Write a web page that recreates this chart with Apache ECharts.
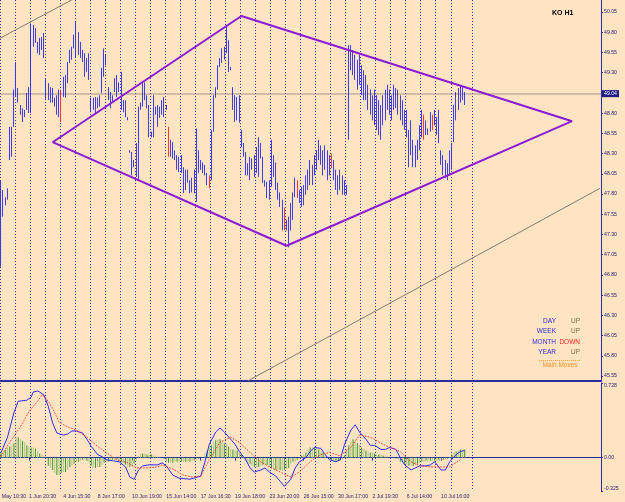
<!DOCTYPE html>
<html><head><meta charset="utf-8">
<script src="https://cdn.jsdelivr.net/npm/echarts@6/dist/echarts.min.js"></script>
<style>html,body{margin:0;padding:0;background:#ffe4c4;}#c{width:625px;height:502px;}</style>
</head><body><div id="c"></div>
<script>
// ---- data ----
const chartTitle = 'KO H1';
const barOpen = [47.00,47.80,47.70,47.75,48.25,48.55,48.65, 49.05,49.10,48.90,48.80,48.76,48.86,49.00,48.85, 49.85,49.68,49.66,49.55,49.70,49.60,49.20, 49.00,49.10,48.95,48.97,48.80,48.78,49.05, 49.00,49.20,49.18,49.43,49.48,49.62,49.75, 49.55,49.66,49.55,49.28,49.45,49.35,48.98, 48.85,48.95,48.88,48.95,49.07,49.30,49.50, 49.10,49.00,48.95,49.08,49.20,49.08,49.15, 48.90,48.82,48.75,48.34,48.30,48.14,48.20, 48.00,48.90,48.88,49.15,48.88,48.88,48.56, 48.52,48.86,48.80,48.76,48.85,48.78,48.88, 48.60,48.30,48.42,48.30,48.12,48.10,48.22, 48.08,47.88,48.05,47.95,47.84,47.85,48.05, 48.10,48.20,48.12,48.10,47.93,48.02,47.98, 48.58,49.00,49.10,49.38,49.44,49.57,49.55, 49.66,49.36,49.10,48.90,48.73,48.70,48.57, 48.40,48.28,48.05,48.15,48.11,48.03,48.25, 48.10,48.42,48.24,47.96,47.77,47.75,47.95, 48.25,48.05,47.90,47.78,47.38,47.60,47.45, 47.36,47.40,47.60,47.78,47.95,47.78,47.70, 47.80,47.80,48.00,47.92,48.15,48.05,48.22, 48.30,48.38,48.20,48.12,48.30,48.05,48.26, 48.15,48.00,47.88,47.98,47.82,47.95,47.82, 48.50,49.60,49.35,49.50,49.25,49.15,49.38, 49.05,49.25,49.00,48.88,49.00,48.75,48.70, 48.62,48.90,48.66,48.98,48.86,49.08,48.80, 48.95,49.10,48.90,48.82,48.75,48.82,48.62, 48.55,48.30,48.45,48.16,48.35,48.40,48.60, 48.78,48.55,48.60,48.58,48.76,48.66,48.72, 48.56,48.32,48.20,48.05,48.15,48.05,48.30, 48.46,48.85,49.00,49.08,48.97,49.02];
const barHigh = [47.97,47.85,47.76,47.87,48.63,48.63,49.09, 49.43,49.11,48.90,48.86,48.84,49.05,49.12,49.91, 49.89,49.85,49.68,49.73,49.74,49.79,49.23, 49.17,49.12,49.11,48.99,49.02,49.09,49.09, 49.25,49.27,49.43,49.58,49.62,49.77,49.93, 49.80,49.68,49.58,49.54,49.48,49.54,48.99, 48.99,49.00,48.99,49.02,49.36,49.60,49.52, 49.12,49.06,49.02,49.23,49.27,49.18,49.31, 48.96,48.96,48.75,48.34,48.32,48.22,48.43, 48.88,48.93,49.17,49.18,49.02,48.90,48.57, 49.02,48.88,48.90,48.88,48.96,49.00,48.90, 48.63,48.47,48.44,48.34,48.28,48.26,48.28, 48.13,48.10,48.10,47.97,48.00,48.10,48.61, 48.34,48.22,48.19,48.16,48.06,48.03,48.59, 49.02,49.12,49.39,49.48,49.60,49.62,49.89, 49.70,49.37,49.12,49.02,49.00,49.02,48.59, 48.43,48.32,48.18,48.26,48.24,48.28,48.38, 48.50,48.43,48.26,47.97,47.95,47.97,48.47, 48.28,48.19,47.94,47.82,47.73,47.63,47.48, 47.52,47.69,47.82,48.00,47.97,47.85,47.89, 47.91,48.03,48.10,48.22,48.16,48.28,48.34, 48.47,48.40,48.34,48.40,48.34,48.28,48.30, 48.22,48.10,48.03,48.10,48.03,47.97,47.91, 49.64,49.64,49.58,49.52,49.46,49.52,49.39, 49.33,49.27,49.15,49.09,49.02,49.09,49.02, 48.96,48.90,49.02,49.09,49.15,49.09,49.02, 49.15,49.11,49.09,49.02,48.96,48.84,48.84, 48.59,48.71,48.47,48.40,48.47,48.65,48.84, 48.78,48.71,48.61,48.81,48.78,48.84,48.75, 48.84,48.34,48.28,48.22,48.18,48.34,48.43, 48.90,49.06,49.11,49.15,49.12,49.06];
const barLow = [46.90,47.52,47.66,47.73,48.22,48.26,48.63, 49.00,48.93,48.78,48.69,48.75,48.84,48.80,48.80, 49.62,49.67,49.54,49.52,49.58,49.48,48.96, 48.96,48.93,48.93,48.88,48.78,48.75,48.69, 49.00,48.99,49.17,49.42,49.46,49.60,49.48, 49.52,49.48,49.43,49.25,49.31,49.21,48.81, 48.84,48.80,48.86,48.88,49.05,49.25,49.39, 48.96,48.86,48.94,49.06,49.00,49.06,48.84, 48.81,48.75,48.71,48.31,48.03,48.13,48.01, 47.97,48.84,48.88,48.96,48.86,48.50,48.50, 48.50,48.78,48.63,48.74,48.78,48.75,48.84, 48.26,48.26,48.24,48.22,48.10,48.07,48.06, 47.81,47.85,47.94,47.81,47.82,47.81,47.70, 48.06,48.10,48.06,48.03,47.91,47.87,47.97, 48.57,48.99,49.09,49.37,49.42,49.46,49.54, 49.31,49.33,48.84,48.69,48.71,48.68,48.38, 48.26,48.03,48.03,47.97,48.10,48.01,48.06, 48.01,48.24,47.94,47.89,47.75,47.73,47.89, 48.01,47.85,47.73,47.64,47.35,47.35,47.35, 47.14,47.35,47.48,47.76,47.75,47.69,47.64, 47.66,47.79,47.85,47.91,47.91,48.03,48.10, 48.22,48.16,48.03,48.10,47.97,48.03,48.12, 47.97,47.85,47.79,47.85,47.79,47.79,47.79, 48.47,49.33,49.27,49.21,49.09,49.15,49.02, 48.96,48.96,48.84,48.78,48.71,48.65,48.59, 48.53,48.47,48.65,48.71,48.84,48.78,48.71, 48.84,48.86,48.78,48.71,48.65,48.59,48.50, 48.13,48.28,48.13,48.13,48.22,48.34,48.50, 48.47,48.53,48.53,48.57,48.59,48.65,48.53, 48.43,48.16,48.03,48.00,47.97,48.03,48.10, 48.44,48.71,48.84,48.93,48.96,48.90];
const barClose = [47.85,47.60,47.74,47.85,48.55,48.30,49.05, 49.35,48.95,48.80,48.72,48.82,49.02,48.85,49.85, 49.65,49.80,49.56,49.70,49.60,49.50,49.00, 49.15,48.95,49.08,48.90,48.98,49.05,48.72, 49.22,49.02,49.40,49.55,49.58,49.74,49.55, 49.75,49.50,49.45,49.50,49.33,49.25,48.83, 48.97,48.82,48.97,48.90,49.33,49.55,49.42, 48.98,48.88,49.00,49.20,49.02,49.16,48.86, 48.83,48.77,48.72,48.32,48.05,48.20,48.05, 48.85,48.86,49.15,49.00,49.00,48.55,48.52, 48.98,48.80,48.66,48.85,48.80,48.95,48.86, 48.30,48.44,48.27,48.24,48.25,48.22,48.08, 47.85,48.05,47.96,47.83,47.97,48.06,48.10, 48.30,48.12,48.08,48.05,48.04,47.90,48.55, 48.98,49.10,49.36,49.46,49.57,49.50,49.85, 49.35,49.34,48.87,48.72,48.97,48.98,48.40, 48.28,48.06,48.15,48.00,48.22,48.25,48.10, 48.45,48.26,47.96,47.90,47.93,47.95,48.40, 48.04,47.88,47.75,47.66,47.70,47.38,47.37, 47.45,47.66,47.80,47.97,47.78,47.72,47.85, 47.70,48.00,47.88,48.18,47.95,48.25,48.30, 48.44,48.20,48.08,48.36,48.00,48.24,48.15, 48.00,47.88,47.98,47.88,48.00,47.82,47.88, 49.60,49.38,49.55,49.25,49.12,49.45,49.05, 49.28,49.00,48.88,49.05,48.75,48.70,48.62, 48.92,48.52,48.98,48.75,49.10,48.80,48.95, 49.10,48.90,48.82,48.75,48.90,48.62,48.55, 48.18,48.68,48.16,48.35,48.42,48.62,48.80, 48.50,48.68,48.55,48.78,48.62,48.80,48.56, 48.80,48.18,48.05,48.18,48.00,48.30,48.15, 48.86,49.02,49.08,48.96,49.08,49.04];
const redBars = [28,78,97,132,138,154,197,201];

const priceTicks = [45.55,45.80,46.05,46.30,46.55,46.80,47.05,47.30,47.55,47.80,48.05,48.30,48.55,48.80,49.05,49.30,49.55,49.80,50.05];
const oscTicks = [0.728,0,-0.325];
const oscTickLabels = ['0.728','0.00','-0.325'];

const timeLabels = ['31 May 10:30','1 Jun 20:30','4 Jun 15:30','8 Jun 17:00','10 Jun 19:00','15 Jun 14:00','17 Jun 16:30','19 Jun 18:00','23 Jun 20:00','26 Jun 15:00','30 Jun 17:00','2 Jul 19:30','6 Jul 14:00','10 Jul 16:00'];
const timeLabelBars = [-3,13,29,45,61,77,93,109,125,141,157,173,189,205];

// pattern lines (bar index, price)
const diamondBars = [24,112,266,133,24];
const diamondPrices = [48.44,50.00,48.70,47.16,48.44];
const channelUpBars = [-3,33];
const channelUpPrices = [49.69,50.20];
const channelLowBars = [115,279];
const channelLowPrices = [45.49,47.87];

// oscillator
const histVals = [0.05,0.06,0.08,0.10,0.11,0.12,0.14, 0.20,0.20,0.18,0.16,0.15,0.12,0.11, 0.10,0.10,0.09,0.06,0.04,0.03,0.01, -0.02,-0.08,-0.10,-0.12,-0.15,-0.17,-0.17, -0.15,-0.14,-0.14,-0.12,-0.09,-0.08,-0.06, -0.04,-0.04,-0.03,-0.02,-0.02,-0.03,-0.05, -0.08,-0.10,-0.10,-0.09,-0.09,-0.07,-0.05, -0.04,-0.04,-0.03,-0.02,-0.02,-0.02,-0.03, -0.04,-0.05,-0.07,-0.09,-0.09,-0.08,-0.06, -0.03,0.01,0.04,0.04,0.04,0.03,0.03, 0.03,0.02,0.01,0.01,0.01,0.00,-0.01, -0.03,-0.05,-0.05,-0.05,-0.04,-0.04,-0.04, -0.04,-0.04,-0.04,-0.04,-0.04,-0.03,-0.03, -0.02,-0.01,0.00,0.01,0.04,0.07,0.10, 0.12,0.15,0.17,0.18,0.18,0.16,0.14, 0.13,0.11,0.09,0.08,0.08,0.07,0.05, 0.03,0.01,-0.03,-0.05,-0.06,-0.08,-0.09, -0.09,-0.09,-0.08,-0.07,-0.07,-0.07,-0.09, -0.10,-0.11,-0.12,-0.12,-0.12,-0.13,-0.12, -0.11,-0.10,-0.06,-0.04,-0.04,-0.02,0.00, 0.02,0.03,0.05,0.08,0.10,0.10,0.10, 0.09,0.08,0.06,0.05,0.03,0.00,-0.02, -0.03,-0.04,-0.04,-0.04,-0.03,-0.02,0.02, 0.08,0.12,0.16,0.18,0.17,0.14,0.12, 0.10,0.09,0.07,0.06,0.05,0.05,0.04, 0.03,0.03,0.03,0.02,0.02,0.01,0.00, 0.00,0.00,-0.01,-0.02,-0.04,-0.05,-0.06, -0.07,-0.08,-0.08,-0.08,-0.07,-0.06,-0.05, -0.04,-0.04,-0.03,-0.03,-0.03,-0.03,-0.03, -0.03,-0.03,-0.02,-0.02,-0.02,-0.01,0.01, 0.03,0.05,0.06,0.07,0.08,0.08,0.08];
const macdBars = [0,3,6,8,12,14,15,17,18,20,22,24,26,29,31,33,35,38,40,42,45,47,49,52,55,58,60,62,64,66,69,73,75,77,80,83,88,93,95,97,100,102,104,107,109,111,114,116,118,121,123,125,128,130,132,135,137,139,142,144,146,149,151,153,156,158,160,163,165,167,170,172,174,177,179,181,184,186,188,191,193,195,198,200,202,205,207,209,212,214,216];
const macdVals = [0.05,0.20,0.44,0.55,0.56,0.59,0.64,0.65,0.64,0.61,0.50,0.34,0.24,0.22,0.23,0.26,0.26,0.24,0.18,0.11,0.03,0.01,-0.02,-0.03,-0.04,-0.09,-0.19,-0.21,-0.12,-0.08,-0.07,-0.07,-0.05,-0.08,-0.17,-0.20,-0.21,-0.18,-0.04,0.13,0.25,0.29,0.25,0.18,0.13,0.06,-0.02,-0.10,-0.14,-0.12,-0.10,-0.14,-0.18,-0.23,-0.28,-0.21,-0.10,-0.04,0.00,0.06,0.10,0.09,0.03,-0.02,-0.04,-0.02,0.13,0.27,0.32,0.25,0.18,0.12,0.12,0.08,0.08,0.10,0.08,0.00,-0.07,-0.12,-0.10,-0.08,-0.08,-0.07,-0.04,-0.12,-0.12,-0.04,0.03,0.06,0.07];
const sigBars = [0,4,9,13,17,19,20,23,25,27,31,35,40,45,49,54,59,63,68,73,75,80,85,89,93,97,102,107,111,116,121,125,130,135,139,144,149,153,158,163,167,172,177,181,186,191,195,200,205,209,214];
const sigVals = [0.01,0.15,0.30,0.45,0.55,0.61,0.60,0.52,0.44,0.35,0.30,0.27,0.20,0.11,0.05,-0.02,-0.05,-0.10,-0.10,-0.09,-0.07,-0.11,-0.17,-0.19,-0.18,-0.02,0.15,0.20,0.15,0.05,-0.04,-0.09,-0.14,-0.19,-0.14,-0.04,0.03,0.05,0.02,0.10,0.22,0.20,0.14,0.10,0.06,-0.04,-0.08,-0.09,-0.09,-0.09,-0.02];

const trendLabels = ['DAY','WEEK','MONTH','YEAR'];
const trendDirs = ['UP','UP','DOWN','UP'];
const footerLabel = 'Main Moves';

// ---- layout ----
const PAD = 3, VISIBLE = 280, N = PAD + VISIBLE;
const W = 601 / VISIBLE;
const slot = b => b + PAD;
const cats = new Array(N).fill('');
timeLabels.forEach((t, k) => { cats[slot(timeLabelBars[k])] = t; });
const FONT = "'Liberation Sans', Arial, sans-serif";
const NAVY = '#2d2d9e';
const TXT = '#1e1e6e';
const sepShow = i => { const b = i - PAD; return (b >= 0 && b <= 210 && b % 7 === 0) || b === 220; };
const labelShow = i => cats[i] !== '';
const splitLine = { show: true, interval: (i) => sepShow(i), lineStyle: { color: NAVY, type: [1, 2], width: 1 } };

const candles = barOpen.map((o, i) => {
  const item = { value: [slot(i), o, barClose[i], barLow[i], barHigh[i]] };
  if (redBars.includes(i)) item.itemStyle = { color: '#f3a08a', color0: '#f3a08a', borderColor: '#ff2424', borderColor0: '#ff2424' };
  return item;
});
const pts = (bars, vals) => bars.map((b, k) => [slot(b), vals[k]]);
const lastPrice = barClose[barClose.length - 1];

const chart = echarts.init(document.getElementById('c'), null, { renderer: 'canvas' });
chart.setOption({
  backgroundColor: '#ffe4c4',
  animation: false,
  textStyle: { fontFamily: FONT },
  title: { text: chartTitle, left: 552, top: 10, padding: 0, textStyle: { fontSize: 7, fontWeight: 'bold', color: '#000', fontFamily: FONT } },
  grid: [
    { left: -PAD * W, top: 0, width: N * W, height: 381, containLabel: false, outerBoundsMode: 'none' },
    { left: -PAD * W, top: 383, width: N * W, height: 108, containLabel: false, outerBoundsMode: 'none' }
  ],
  xAxis: [
    { type: 'category', gridIndex: 0, data: cats, boundaryGap: true,
      axisLine: { show: true, lineStyle: { color: NAVY, width: 2 } }, axisTick: { show: false }, axisLabel: { show: false }, splitLine },
    { type: 'category', gridIndex: 1, data: cats, boundaryGap: true,
      axisLine: { show: true, lineStyle: { color: NAVY, width: 1 } },
      axisTick: { show: true, alignWithLabel: true, interval: (i) => labelShow(i), length: 3, lineStyle: { color: NAVY } },
      axisLabel: { show: true, interval: (i) => labelShow(i), showMinLabel: true, hideOverlap: false, align: 'left', margin: 3, fontSize: 5.2, color: TXT, fontFamily: FONT },
      splitLine }
  ],
  yAxis: [
    { type: 'value', gridIndex: 0, position: 'right', min: 45.488, max: 50.198, scale: true,
      axisLine: { show: true, lineStyle: { color: NAVY, width: 1 } },
      axisTick: { show: true, customValues: priceTicks, length: 2, lineStyle: { color: NAVY } },
      axisLabel: { show: true, customValues: priceTicks, formatter: v => v.toFixed(2), fontSize: 5.2, color: TXT, margin: 3, fontFamily: FONT },
      splitLine: { show: false } },
    { type: 'value', gridIndex: 1, position: 'right', min: -0.325, max: 0.728,
      axisLine: { show: true, lineStyle: { color: NAVY, width: 1 } },
      axisTick: { show: true, customValues: oscTicks, length: 2, lineStyle: { color: NAVY } },
      axisLabel: { show: true, customValues: oscTicks, fontSize: 5.2, color: TXT, margin: 3, fontFamily: FONT,
        formatter: v => {
          const k = oscTicks.indexOf(v);
          const t = k >= 0 ? oscTickLabels[k] : v.toFixed(2);
          return v === oscTicks[0] ? '{top|' + t + '}' : (v === oscTicks[2] ? '{bot|' + t + '}' : t);
        },
        rich: { top: { padding: [5, 0, 0, 0], fontSize: 5.2, color: TXT }, bot: { padding: [0, 0, 5, 0], fontSize: 5.2, color: TXT } } },
      splitLine: { show: false } }
  ],
  series: [
    { type: 'candlestick', xAxisIndex: 0, yAxisIndex: 0, data: candles, encode: { x: 0, y: [1, 2, 3, 4] },
      barWidth: 1.2, z: 3,
      itemStyle: { color: '#aaa2e4', color0: '#2a2ae8', borderColor: '#2a2ae8', borderColor0: '#2a2ae8', borderWidth: 0.9 },
      markLine: { silent: true, symbol: ['none', 'none'], z: 2, data: [{ yAxis: lastPrice }],
        lineStyle: { color: 'rgba(150,140,128,0.6)', width: 1.5, type: 'solid' },
        label: { show: true, position: 'end', distance: 1, formatter: lastPrice.toFixed(2), color: '#ffffff', backgroundColor: '#1e1e86', padding: [1, 2, 1, 2], fontSize: 5.2, fontFamily: FONT },
        emphasis: { disabled: true } } },
    { type: 'line', xAxisIndex: 0, yAxisIndex: 0, data: pts(channelUpBars, channelUpPrices), symbol: 'none', z: 4,
      lineStyle: { color: '#7d7d6c', width: 1 } },
    { type: 'line', xAxisIndex: 0, yAxisIndex: 0, data: pts(channelLowBars, channelLowPrices), symbol: 'none', z: 4,
      lineStyle: { color: '#7d7d6c', width: 1 } },
    { type: 'line', xAxisIndex: 0, yAxisIndex: 0, data: pts(diamondBars, diamondPrices), symbol: 'none', z: 5,
      lineStyle: { color: '#8a1cd8', width: 2 } },
    { type: 'bar', xAxisIndex: 1, yAxisIndex: 1, data: histVals.map((v, i) => [slot(i), v]), barWidth: 1, z: 2,
      itemStyle: { color: p => (p.dataIndex % 2 ? '#a9c784' : '#3a9a2a') } },
    { type: 'line', xAxisIndex: 1, yAxisIndex: 1, data: pts(macdBars, macdVals), symbol: 'none', z: 4,
      lineStyle: { color: '#2b2bff', width: 1 } },
    { type: 'line', xAxisIndex: 1, yAxisIndex: 1, data: pts(sigBars, sigVals), symbol: 'none', z: 4,
      lineStyle: { color: '#ff3030', width: 1, type: [1.5, 1.5] } }
  ],
  graphic: [
    ...trendLabels.map((t, k) => ({ type: 'text', x: 556, y: [321, 331, 342, 352][k],
      style: { text: t, align: 'right', verticalAlign: 'middle', fill: '#2a2ad8', font: '6.5px "Liberation Sans"' } })),
    ...trendDirs.map((t, k) => ({ type: 'text', x: 580, y: [321, 331, 342, 352][k],
      style: { text: t, align: 'right', verticalAlign: 'middle', fill: t === 'DOWN' ? '#ff2626' : '#6f6f4a', font: '6.5px "Liberation Sans"' } })),
    { type: 'line', shape: { x1: 539, y1: 360.5, x2: 580, y2: 360.5 }, style: { stroke: '#ff9a2a', lineWidth: 1, lineDash: [1, 1] } },
    { type: 'text', x: 560, y: 365.5, style: { text: footerLabel, align: 'center', verticalAlign: 'middle', fill: '#ff9020', font: '6.5px "Liberation Sans"' } }
  ]
});
</script></body></html>
